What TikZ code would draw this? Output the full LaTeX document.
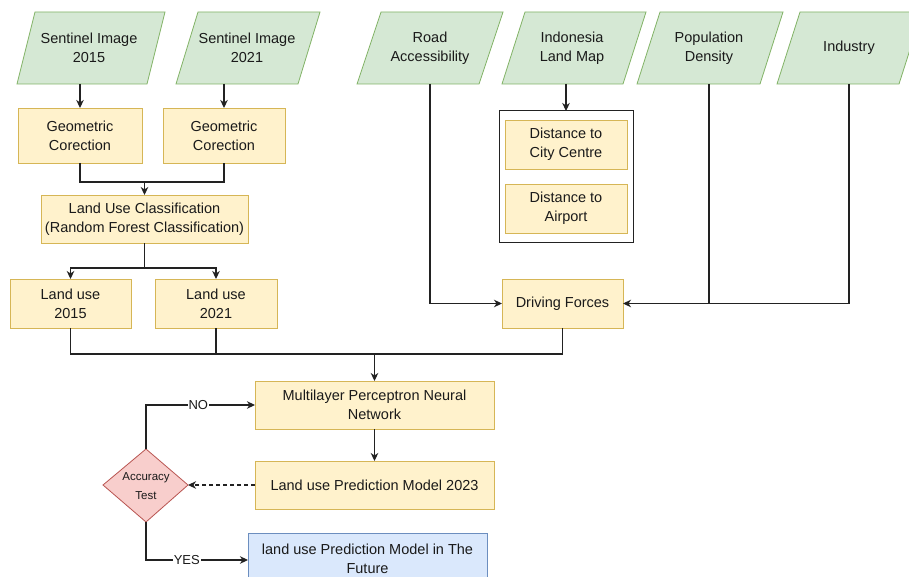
\documentclass[tikz,border=0pt]{standalone}
\usepackage{fontspec}
\setmainfont{Liberation Sans}
\usetikzlibrary{arrows.meta}
\definecolor{gfill}{HTML}{D5E8D4}
\definecolor{gline}{HTML}{82B366}
\definecolor{yfill}{HTML}{FFF2CC}
\definecolor{yline}{HTML}{D6B656}
\definecolor{rfill}{HTML}{F8CECC}
\definecolor{rline}{HTML}{B85450}
\definecolor{bfill}{HTML}{DAE8FC}
\definecolor{bline}{HTML}{6C8EBF}
\definecolor{ink}{HTML}{1A1A1A}
\definecolor{wire}{HTML}{222222}
\newcommand\drawpara[6]{%
  \draw[gpara] (#2,84) -- (#3,84) -- ({#3+#4},12) -- ({#2+#4},12) -- cycle;
  \node[ptext] (#1) at (#6,48) {#5};}
\newcommand\mkbox[6]{%
  \node[#1, minimum width={(#5-#3)*1pt}, minimum height={(#6-#4)*1pt}]
    (#2) at ({(#3+#5)/2},{(#4+#6)/2}) {};}
\begin{document}
\begin{tikzpicture}[x=1pt,y=-1pt,
  every node/.style={inner sep=0pt, outer sep=0pt, text=ink},
  gpara/.style={fill=gfill, draw=gline, line width=0.8pt},
  ptext/.style={align=center, font=\fontsize{14.5}{19}\selectfont},
  ybox/.style={rectangle, fill=yfill, draw=yline, line width=0.8pt},
  cbox/.style={rectangle, fill=white, draw=wire, line width=1pt},
  bbox/.style={rectangle, fill=bfill, draw=bline, line width=0.8pt},
  btext/.style={align=center, font=\fontsize{14.5}{19}\selectfont},
  wirestyle/.style={draw=wire, line width=1.1pt},
  arr/.style={wirestyle, -{Stealth[length=8pt,width=7.5pt,inset=2.5pt]}},
  lbl/.style={fill=white, inner sep=1pt, font=\fontsize{13}{15}\selectfont}]
\path[use as bounding box, clip] (0,0) rectangle (909,577);
\fill[white] (0,0) rectangle (909,577);

% input parallelograms
\drawpara{s15}{17}{147}{18}{Sentinel Image\\2015}{89}
\drawpara{s21}{176}{298}{22}{Sentinel Image\\2021}{247}
\drawpara{road}{357}{479}{24}{Road\\Accessibility}{430}
\drawpara{indo}{502}{623}{23}{Indonesia\\Land Map}{572}
\drawpara{pop}{637}{760}{23}{Population\\Density}{709}
\drawpara{ind}{777}{899}{23}{Industry}{849}
\coordinate (s15b) at (80,84);
\coordinate (s21b) at (224,84);
\coordinate (roadb) at (430,84);
\coordinate (indob) at (566,84);
\coordinate (popb) at (709,84);
\coordinate (indb) at (849,84);

% boxes
\mkbox{ybox}{geo1}{18}{108}{142}{163}
\node[btext] (geo1t) at (geo1) {Geometric\\Corection};
\mkbox{ybox}{geo2}{163}{108}{285}{163}
\node[btext] (geo2t) at (geo2) {Geometric\\Corection};
\mkbox{ybox}{luc}{41}{195}{248}{243}
\node[btext] (luct) at (luc) {Land Use Classification\\(Random Forest Classification)};
\mkbox{ybox}{lu15}{10}{279}{131}{328}
\node[btext] (lu15t) at (lu15) {Land use\\2015};
\mkbox{ybox}{lu21}{155}{279}{277}{328}
\node[btext] (lu21t) at (lu21) {Land use\\2021};
\mkbox{cbox}{cont}{499}{111}{633}{242}
\mkbox{ybox}{dcc}{505}{120}{627}{169}
\node[btext] (dcct) at (dcc) {Distance to\\City Centre};
\mkbox{ybox}{dap}{505}{184}{627}{233}
\node[btext] (dapt) at (dap) {Distance to\\Airport};
\mkbox{ybox}{df}{502}{279}{623}{328}
\node[btext] (dft) at (df) {Driving Forces};
\mkbox{ybox}{mlp}{255}{381}{494}{429}
\node[btext] (mlpt) at (mlp) {Multilayer Perceptron Neural\\Network};
\mkbox{ybox}{pred}{255}{461}{494}{509}
\node[btext] (predt) at (pred) {Land use Prediction Model 2023};
\mkbox{bbox}{fut}{248}{533}{487}{587}
\node[btext] (futt) at (367.5,558.5) {land use Prediction Model in The\\Future};

% diamond
\coordinate (acct) at (146,449);
\coordinate (accb) at (146,522);
\coordinate (accl) at (103,485);
\coordinate (accr) at (188,485);
\draw[fill=rfill, draw=rline, line width=0.8pt] (acct) -- (accr) -- (accb) -- (accl) -- cycle;
\node[align=center, font=\fontsize{11.5}{18.5}\selectfont] (acc) at (146,486) {Accuracy\\Test};

% connectors
\draw[arr] (s15b) -- (geo1.north);
\draw[arr] (s21b) -- (geo2.north);
\coordinate (m1) at (144.5,182);
\draw[wirestyle] (geo1.south) |- (m1) -| (geo2.south);
\draw[arr] (m1) -- (luc.north);
\coordinate (m2) at (144.5,268);
\draw[wirestyle] (luc.south) -- (m2);
\draw[arr] (m2) -| (lu15.north);
\draw[arr] (m2) -| (lu21.north);
\draw[arr] (indob) -- (cont.north);
\draw[arr] (roadb) |- (df.west);
\draw[arr] (indb) |- (df.east);
\draw[wirestyle] (popb) -- (popb |- df.east);
\coordinate (jn) at (374.5,354);
\draw[wirestyle] (lu15.south) |- (df.south |- jn) -- (df.south);
\draw[wirestyle] (lu21.south) -- (lu21.south |- jn);
\draw[arr] (jn) -- (mlp.north);
\draw[arr] (mlp.south) -- (pred.north);
\draw[arr, dash pattern=on 4pt off 3pt] (pred.west) -- (accr);
\draw[arr] (acct) |- (mlp.west) node[lbl, pos=0.74] (nolbl) {NO};
\draw[arr] (accb) |- (fut.west) node[lbl, pos=0.7] (yeslbl) {YES};
\end{tikzpicture}
\end{document}
